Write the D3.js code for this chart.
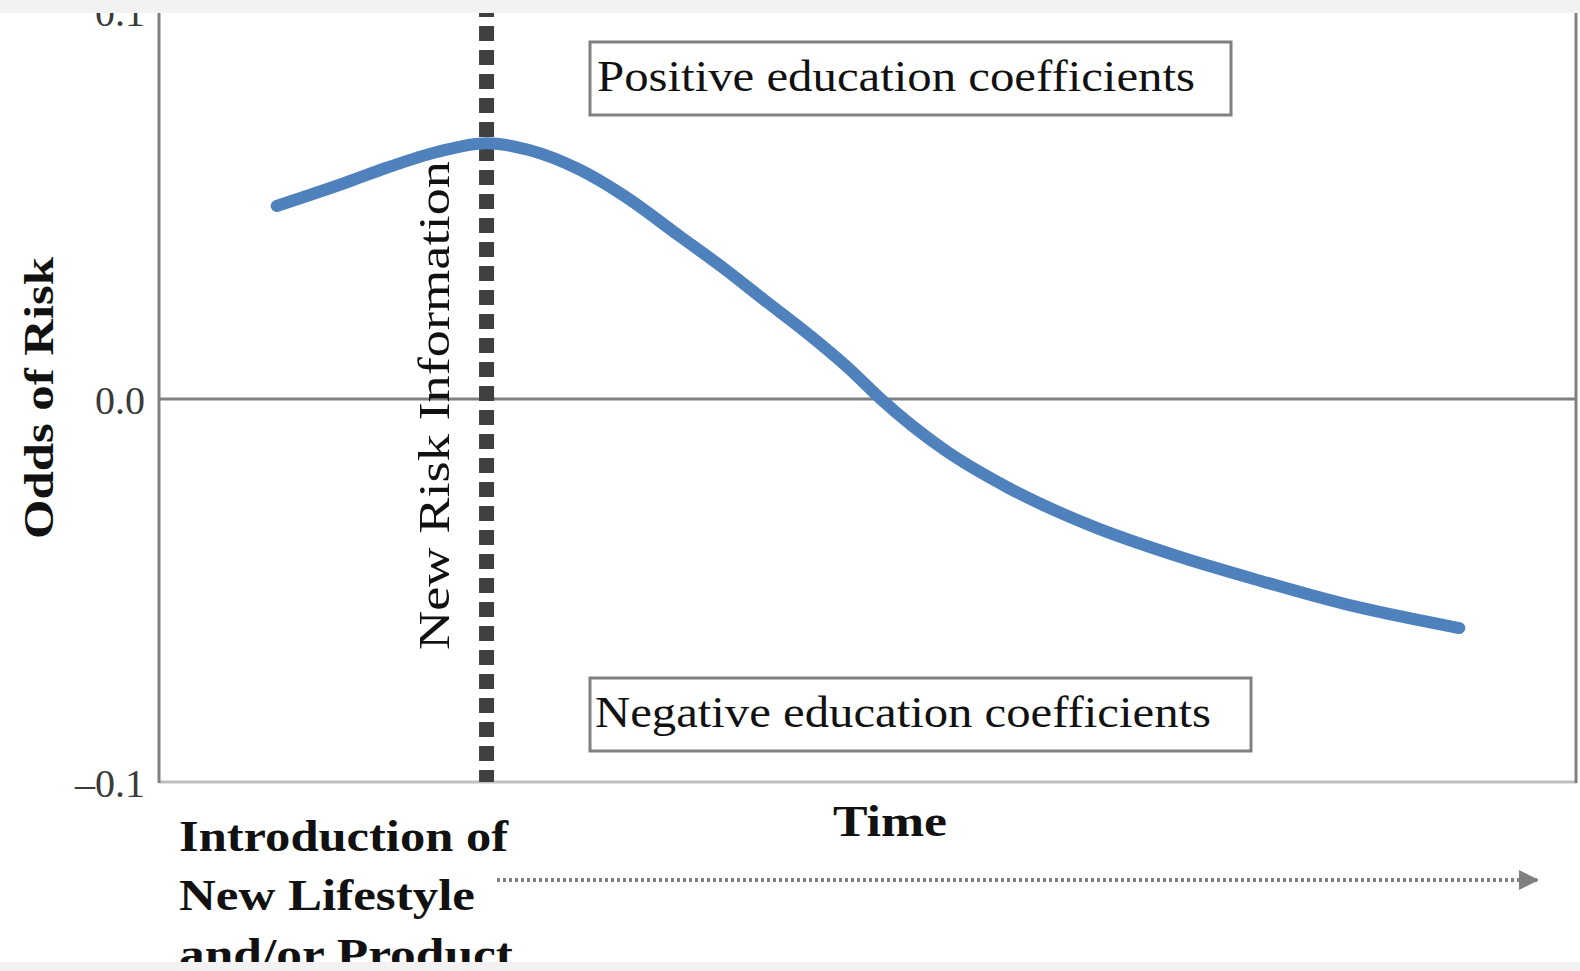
<!DOCTYPE html>
<html>
<head>
<meta charset="utf-8">
<script src="https://cdn.jsdelivr.net/npm/d3@7"></script>
<style>
  html, body { margin: 0; padding: 0; background: #fff; overflow: hidden; }
  svg { display: block; }
  text { font-family: "Liberation Serif", "DejaVu Serif", serif; }
</style>
</head>
<body>
<svg id="chart"></svg>
<script>
// curve: time (arbitrary units) vs odds of risk
var times = [0.83, 1.31, 1.60, 1.96, 2.31, 2.61, 2.97, 3.27, 3.68, 3.98, 4.27, 4.57, 4.87, 5.09, 5.54, 5.99, 6.58, 7.18, 7.77, 8.36, 9.17];
var odds  = [0.0504, 0.0564, 0.0603, 0.0645, 0.0668, 0.0650, 0.0598, 0.0533, 0.0423, 0.0342, 0.0258, 0.0172, 0.0078, 0.0, -0.0133, -0.0232, -0.0332, -0.0410, -0.0475, -0.0535, -0.0598];
var yTicks = [0.1, 0.0, -0.1];
var riskInfoTime = 2.31;
var boxLabels = ["Positive education coefficients", "Negative education coefficients"];
var introLines = ["Introduction of", "New Lifestyle", "and/or Product"];

var W = 1580, H = 971;
var chart = { left: 159, right: 1577, top: 16, bottom: 782 };

var svg = d3.select("#chart").attr("width", W).attr("height", H);

var x = d3.scaleLinear().domain([0, 10]).range([chart.left, chart.right]);
var y = d3.scaleLinear().domain([-0.1, 0.1]).range([chart.bottom, chart.top]);

// y tick labels
var yAxis = d3.axisLeft(y)
    .tickValues(yTicks)
    .tickSize(0)
    .tickPadding(14)
    .tickFormat(function(d) { return d < 0 ? "\u2013" + d3.format(".1f")(-d) : d3.format(".1f")(d); });

var yg = svg.append("g")
    .attr("transform", "translate(" + chart.left + ",0)")
    .call(yAxis);
yg.select(".domain").remove();
yg.selectAll("text")
    .style("font-family", "'Liberation Serif', serif")
    .attr("font-size", 40)
    .attr("fill", "#3a3a3a")
    .attr("dy", function(d) { return d > 0 ? "0.24em" : "0.36em"; });

// frame lines
svg.append("line")
    .attr("x1", chart.left).attr("x2", chart.right)
    .attr("y1", chart.bottom).attr("y2", chart.bottom)
    .attr("stroke", "#bfbfbf").attr("stroke-width", 3);
svg.append("line")
    .attr("x1", chart.left).attr("x2", chart.left)
    .attr("y1", 0).attr("y2", chart.bottom + 1)
    .attr("stroke", "#808080").attr("stroke-width", 3);
svg.append("line")
    .attr("x1", chart.right - 1).attr("x2", chart.right - 1)
    .attr("y1", 0).attr("y2", chart.bottom + 1)
    .attr("stroke", "#808080").attr("stroke-width", 3);
svg.append("line")
    .attr("x1", chart.left).attr("x2", chart.right)
    .attr("y1", y(0)).attr("y2", y(0))
    .attr("stroke", "#808080").attr("stroke-width", 3);

// boxes
var boxes = [
    { text: boxLabels[0], x0: 590, x1: 1231, y0: 42, y1: 115, tx: 597, ty: 91, len: 598 },
    { text: boxLabels[1], x0: 590, x1: 1251, y0: 678, y1: 751, tx: 595, ty: 727, len: 616 }
];
boxes.forEach(function(b) {
    svg.append("rect")
        .attr("x", b.x0).attr("y", b.y0)
        .attr("width", b.x1 - b.x0).attr("height", b.y1 - b.y0)
        .attr("fill", "#fff")
        .attr("stroke", "#808080").attr("stroke-width", 3);
    svg.append("text")
        .attr("x", b.tx).attr("y", b.ty)
        .attr("font-size", 44)
        .attr("fill", "#111")
        .attr("textLength", b.len)
        .attr("lengthAdjust", "spacingAndGlyphs")
        .text(b.text);
});

// new risk information marker
svg.append("text")
    .attr("transform", "translate(" + 449 + "," + 650 + ") rotate(-90)")
    .attr("font-size", 44)
    .attr("fill", "#111")
    .attr("textLength", 489)
    .attr("lengthAdjust", "spacingAndGlyphs")
    .text("New Risk Information");

svg.append("line")
    .attr("x1", x(riskInfoTime)).attr("x2", x(riskInfoTime))
    .attr("y1", 2).attr("y2", chart.bottom)
    .attr("stroke", "#404040").attr("stroke-width", 15)
    .attr("stroke-dasharray", "15,9");

// curve
var line = d3.line()
    .x(function(d, i) { return x(times[i]); })
    .y(function(d) { return y(d); })
    .curve(d3.curveMonotoneX);

svg.append("path")
    .datum(odds)
    .attr("d", line)
    .attr("fill", "none")
    .attr("stroke", "#4f81bd")
    .attr("stroke-width", 12)
    .attr("stroke-linecap", "round");

// axis titles
svg.append("text")
    .attr("transform", "translate(" + 53 + "," + 398 + ") rotate(-90)")
    .attr("text-anchor", "middle")
    .attr("font-size", 42)
    .attr("font-weight", "bold")
    .attr("fill", "#111")
    .attr("textLength", 282)
    .attr("lengthAdjust", "spacingAndGlyphs")
    .text("Odds of Risk");

svg.append("text")
    .attr("x", 890).attr("y", 836)
    .attr("text-anchor", "middle")
    .attr("font-size", 44)
    .attr("font-weight", "bold")
    .attr("fill", "#111")
    .attr("textLength", 114)
    .attr("lengthAdjust", "spacingAndGlyphs")
    .text("Time");

var introLen = [329, 296, 334];
svg.append("g").selectAll("text")
    .data(introLines)
    .enter().append("text")
        .attr("x", 179)
        .attr("y", function(d, i) { return 851 + i * 59; })
        .attr("font-size", 44)
        .attr("font-weight", "bold")
        .attr("fill", "#111")
        .attr("textLength", function(d, i) { return introLen[i]; })
        .attr("lengthAdjust", "spacingAndGlyphs")
        .text(function(d) { return d; });

// dotted time arrow
svg.append("defs").append("marker")
    .attr("id", "arrow")
    .attr("viewBox", "0 0 10 10")
    .attr("refX", 9).attr("refY", 5)
    .attr("markerWidth", 5).attr("markerHeight", 5)
    .attr("markerUnits", "strokeWidth")
    .attr("orient", "auto")
    .append("path")
        .attr("d", "M0,0 L10,5 L0,10 z")
        .attr("fill", "#808080");

svg.append("line")
    .attr("x1", 497).attr("x2", 1537)
    .attr("y1", 880).attr("y2", 880)
    .attr("stroke", "#808080").attr("stroke-width", 4)
    .attr("stroke-dasharray", "3,3")
    .attr("marker-end", "url(#arrow)");

// grey page bands top and bottom
svg.append("rect").attr("x", 0).attr("y", 0).attr("width", W).attr("height", 13).attr("fill", "#f2f2f2");
svg.append("rect").attr("x", 0).attr("y", 962).attr("width", W).attr("height", 9).attr("fill", "#f2f2f2");
</script>
</body>
</html>
